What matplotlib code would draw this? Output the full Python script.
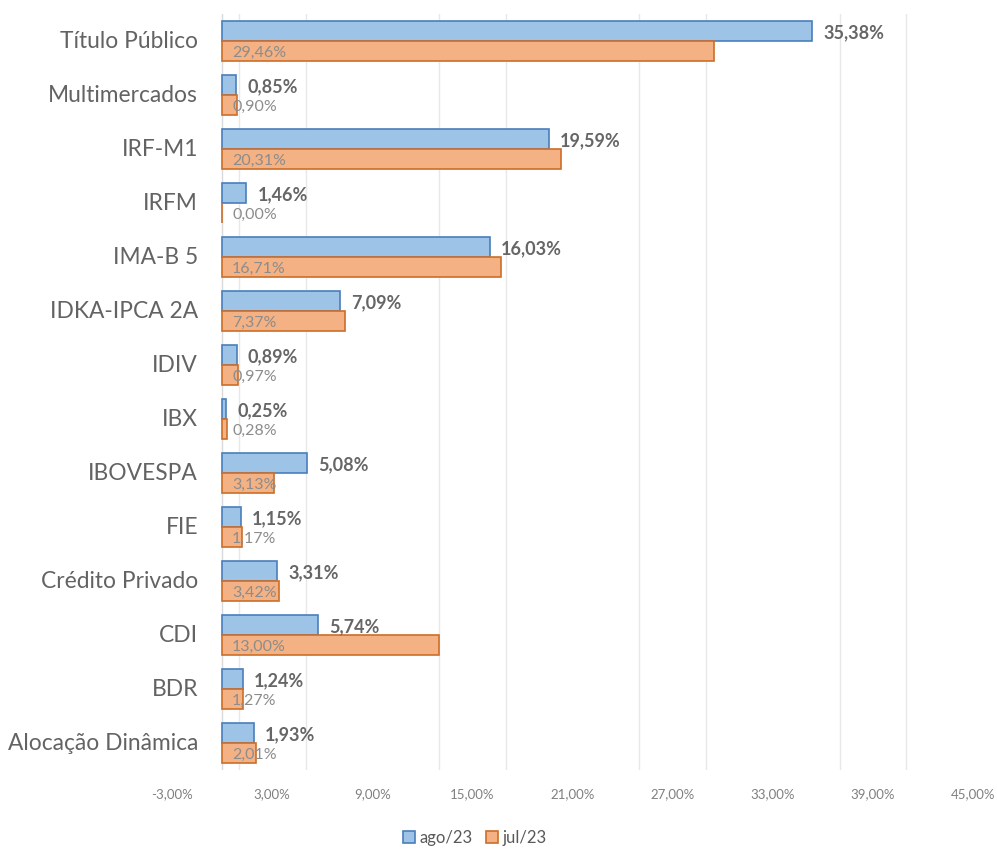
import numpy as np
import matplotlib
matplotlib.use("Agg")
import matplotlib.pyplot as plt
from matplotlib.transforms import offset_copy

plt.rcParams['font.family'] = ['Lato', 'DejaVu Sans']

categories = ["Título Público", "Multimercados", "IRF-M1", "IRFM", "IMA-B 5",
              "IDKA-IPCA 2A", "IDIV", "IBX", "IBOVESPA", "FIE", "Crédito Privado",
              "CDI", "BDR", "Alocação Dinâmica"]
ago23 = [35.38, 0.85, 19.59, 1.46, 16.03, 7.09, 0.89, 0.25, 5.08, 1.15, 3.31, 5.74, 1.24, 1.93]
jul23 = [29.46, 0.90, 20.31, 0.00, 16.71, 7.37, 0.97, 0.28, 3.13, 1.17, 3.42, 13.00, 1.27, 2.01]
series_names = ["ago/23", "jul/23"]
xtick_values = [-3, 3, 9, 15, 21, 27, 33, 39, 45]
grid_values = [-3, 1, 5, 9, 13, 17, 21, 25, 29, 33, 37, 41, 45]

def fmt(v):
    return f"{v:.2f}%".replace('.', ',')

fig = plt.figure(figsize=(9.97, 8.49), dpi=100)
ax = fig.add_axes([172/997, 1-770/849, (973-172)/997, (770-14)/849])

n = len(categories)
y = np.arange(n)
h = 0.365
blue_fc, blue_ec = "#9DC3E6", "#4A7EBB"
orng_fc, orng_ec = "#F4B183", "#CC6E2A"

b1 = ax.barh(y - h/2, ago23, height=h, color=blue_fc, edgecolor=blue_ec, linewidth=1.2, label=series_names[0], zorder=3)
b2 = ax.barh(y + h/2, jul23, height=h, color=orng_fc, edgecolor=orng_ec, linewidth=1.2, label=series_names[1], zorder=3)

ax.set_ylim(n - 0.5, -0.5)
ax.set_xlim(-3, 45)

# ago labels: outside end, bold
tr_out = offset_copy(ax.transData, fig=fig, x=11, y=-2, units='dots')
for yi, v in zip(y, ago23):
    ax.text(v, yi - h/2, fmt(v), transform=tr_out, ha='left', va='center',
            fontsize=13, fontweight='bold', color='#666666', zorder=4)
# jul labels: inside base
tr_in = offset_copy(ax.transData, fig=fig, x=10, y=-2, units='dots')
for yi, v in zip(y, jul23):
    ax.text(0, yi + h/2, fmt(v), transform=tr_in, ha='left', va='center',
            fontsize=11.5, color='#8C8C8C', zorder=4)

# category labels next to axis at 0
tr_cat = offset_copy(ax.transData, fig=fig, x=-24, y=0, units='dots')
for yi, c in zip(y, categories):
    ax.text(0, yi, c, transform=tr_cat, ha='right', va='center',
            fontsize=16.4, color='#636363')

ax.set_yticks([])
ax.set_xticks(xtick_values)
ax.set_xticklabels([fmt(v) for v in xtick_values], color='#808080', fontsize=9.5)
ax.tick_params(axis='x', length=0, pad=13)
ax.set_xticks(grid_values, minor=True)
ax.tick_params(axis='x', which='minor', length=0)
ax.grid(axis='x', which='minor', color='#E8E8E8', linewidth=1, zorder=0)
ax.grid(axis='x', which='major', visible=False)
for s in ax.spines.values():
    s.set_visible(False)
ax.axvline(0, color='#D9D9D9', linewidth=1, zorder=2)

fig.legend(handles=[b1, b2], labels=series_names, loc='center', bbox_to_anchor=(475/997, 1-838/849),
           ncol=2, frameon=False, fontsize=12, handlelength=0.7, handleheight=0.7,
           handletextpad=0.3, columnspacing=0.8, labelcolor='#595959')

fig.savefig("out.png", dpi=100)
